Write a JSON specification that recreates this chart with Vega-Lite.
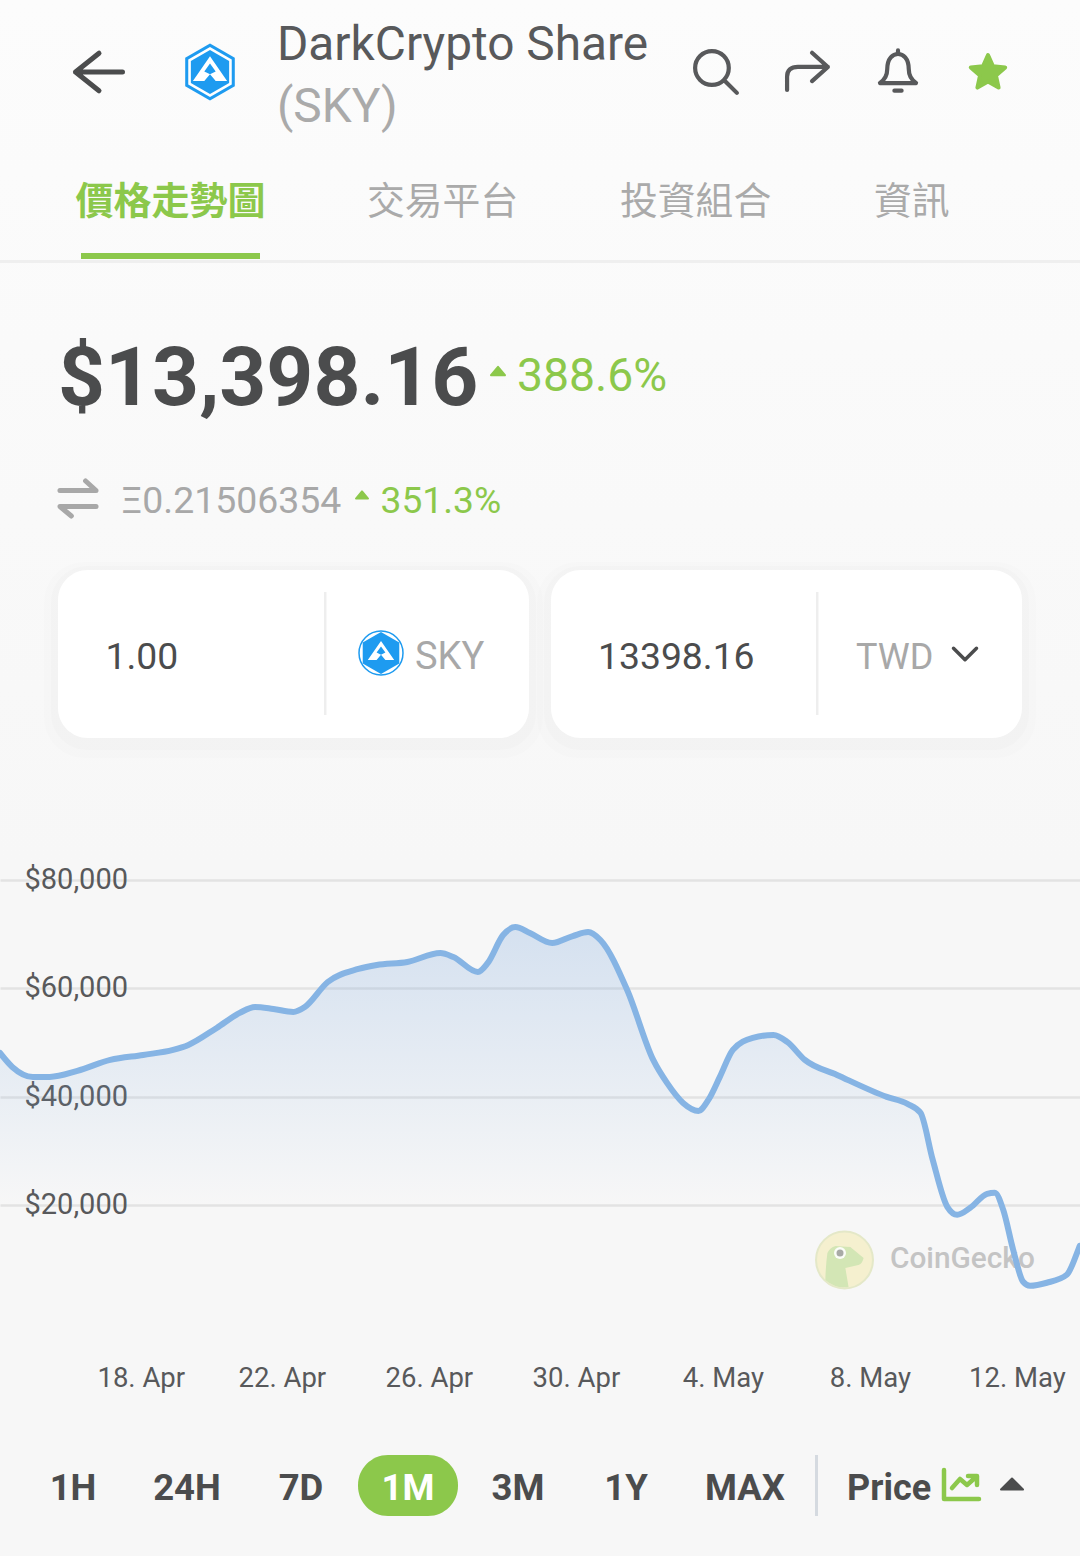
{"$schema":"https://vega.github.io/schema/vega-lite/v6.json","width":1080,"height":433,"autosize":{"type":"none"},"padding":{"left":0,"top":880,"right":0,"bottom":243},"background":"#f7f7f7","config":{"view":{"stroke":null},"text":{"font":"Roboto"}},
"datasets":{"price":[
{"date":"2021-04-14T08:00:00Z","price":48050},{"date":"2021-04-14T16:00:00Z","price":45470},{"date":"2021-04-15T05:30:00Z","price":43620},{"date":"2021-04-15T16:30:00Z","price":43620},{"date":"2021-04-16T10:30:00Z","price":44730},{"date":"2021-04-17T08:00:00Z","price":46760},{"date":"2021-04-18T05:30:00Z","price":47680},{"date":"2021-04-19T01:00:00Z","price":48610},{"date":"2021-04-19T11:00:00Z","price":49530},{"date":"2021-04-20T05:30:00Z","price":52670},{"date":"2021-04-20T20:30:00Z","price":55440},{"date":"2021-04-21T06:30:00Z","price":56540},{"date":"2021-04-21T18:30:00Z","price":56170},{"date":"2021-04-22T07:30:00Z","price":55620},{"date":"2021-04-22T15:00:00Z","price":56540},{"date":"2021-04-23T06:00:00Z","price":61160},{"date":"2021-04-24T02:00:00Z","price":63560},{"date":"2021-04-24T14:00:00Z","price":64300},{"date":"2021-04-25T10:00:00Z","price":64850},{"date":"2021-04-26T07:30:00Z","price":66510},{"date":"2021-04-26T16:00:00Z","price":65770},{"date":"2021-04-27T08:00:00Z","price":63000},{"date":"2021-04-27T14:30:00Z","price":64670},{"date":"2021-04-28T00:30:00Z","price":69830},{"date":"2021-04-28T08:30:00Z","price":71310},{"date":"2021-04-28T18:00:00Z","price":70200},{"date":"2021-04-29T08:30:00Z","price":68360},{"date":"2021-04-29T22:00:00Z","price":69650},{"date":"2021-04-30T08:00:00Z","price":70390},{"date":"2021-04-30T16:00:00Z","price":68910},{"date":"2021-05-01T09:30:00Z","price":59680},{"date":"2021-05-02T02:30:00Z","price":46760},{"date":"2021-05-02T11:30:00Z","price":42510},{"date":"2021-05-02T22:00:00Z","price":38820},{"date":"2021-05-03T08:00:00Z","price":37340},{"date":"2021-05-03T14:30:00Z","price":39370},{"date":"2021-05-03T22:00:00Z","price":43620},{"date":"2021-05-04T06:30:00Z","price":48610},{"date":"2021-05-04T19:30:00Z","price":50820},{"date":"2021-05-05T09:00:00Z","price":51370},{"date":"2021-05-05T18:00:00Z","price":50080},{"date":"2021-05-06T05:30:00Z","price":46760},{"date":"2021-05-07T02:30:00Z","price":43990},{"date":"2021-05-08T11:00:00Z","price":39930},{"date":"2021-05-09T00:30:00Z","price":38640},{"date":"2021-05-09T09:00:00Z","price":36980},{"date":"2021-05-09T17:00:00Z","price":28300},{"date":"2021-05-10T02:30:00Z","price":19620},{"date":"2021-05-10T09:00:00Z","price":18150},{"date":"2021-05-10T17:30:00Z","price":19440},{"date":"2021-05-11T04:30:00Z","price":22020},{"date":"2021-05-11T09:30:00Z","price":22210},{"date":"2021-05-11T15:00:00Z","price":19070},{"date":"2021-05-11T21:30:00Z","price":11690},{"date":"2021-05-12T04:00:00Z","price":5780},{"date":"2021-05-12T08:30:00Z","price":5040},{"date":"2021-05-12T19:30:00Z","price":5590},{"date":"2021-05-13T08:30:00Z","price":7070},{"date":"2021-05-13T16:00:00Z","price":11690},{"date":"2021-05-13T17:00:00Z","price":12420}],
"one":[{"k":1}]},
"layer":[
{"data":{"name":"price"},"mark":{"type":"area","interpolate":"monotone","line":false,"color":{"gradient":"linear","x1":0,"y1":0,"x2":0,"y2":1,"stops":[{"offset":0,"color":"rgba(120,165,220,0.27)"},{"offset":0.72,"color":"rgba(120,165,220,0.0)"},{"offset":1,"color":"rgba(120,165,220,0.0)"}]}},
"encoding":{"x":{"field":"date","type":"temporal","scale":{"type":"utc","domain":["2021-04-14T08:00:00Z","2021-05-13T17:09:00Z"]},"axis":{"title":null,"domain":false,"ticks":false,"grid":false,"labelExpr":"utcFormat(datum.value, '%-d. %b')","values":[{"year":2021,"month":4,"date":18,"utc":true},{"year":2021,"month":4,"date":22,"utc":true},{"year":2021,"month":4,"date":26,"utc":true},{"year":2021,"month":4,"date":30,"utc":true},{"year":2021,"month":5,"date":4,"utc":true},{"year":2021,"month":5,"date":8,"utc":true},{"year":2021,"month":5,"date":12,"utc":true}],"labelFont":"Roboto","labelFontSize":27.5,"labelColor":"#58595b","labelPadding":65,"labelBaseline":"middle","labelAlign":"center","labelFlush":false,"labelOverlap":false,"labelBound":false,"labelOffset":{"condition":{"test":"datum.index < 0.1","value":6},"value":0}}},
"y":{"field":"price","type":"quantitative","scale":{"domain":[0,80000],"nice":false},"axis":{"title":null,"domain":false,"ticks":false,"grid":true,"gridColor":"#e3e3e3","gridWidth":2.5,"values":[20000,40000,60000,80000],"format":"$,.0f","labelFont":"Roboto","labelFontSize":29,"labelColor":"#58595b","labelAlign":"left","labelPadding":-24,"labelOffset":-0.5,"labelBound":false,"labelFlush":false,"labelOverlap":false}}}},

{"data":{"name":"one"},"mark":{"type":"point","shape":"circle","filled":true,"size":3249,"x":844.5,"y":380,"fill":"#f5f0cf","stroke":"#e4e8c8","strokeWidth":2,"opacity":1}},
{"data":{"name":"one"},"mark":{"type":"point","filled":true,"shape":"M-0.59,-0.24Q-0.5,-0.42 -0.31,-0.48L0.2,-0.45L0.66,-0.07Q0.6,0.15 0.48,0.17L0.03,0.28L0.14,0.93Q-0.3,1 -0.66,0.69Q-0.65,0.2 -0.59,-0.24Z","size":3364,"x":844.5,"y":380,"fill":"#d3e6b5","opacity":1}},
{"data":{"name":"one"},"mark":{"type":"point","shape":"circle","filled":true,"size":144,"x":840,"y":373,"fill":"#ffffff","opacity":0.9}},
{"data":{"name":"one"},"mark":{"type":"point","shape":"circle","filled":true,"size":49,"x":840,"y":373,"fill":"#a8aaa6","opacity":1}},
{"data":{"values":[{"t":"CoinGecko"}]},"mark":{"type":"text","x":890,"y":379,"align":"left","baseline":"middle","fontSize":29.8,"fontWeight":500,"color":"#c4c4c4"},"encoding":{"text":{"field":"t"}}},

{"data":{"name":"price"},"mark":{"type":"line","interpolate":"monotone","stroke":"#86b4e4","strokeWidth":6,"strokeCap":"round"},
"encoding":{"x":{"field":"date","type":"temporal","scale":{"type":"utc","domain":["2021-04-14T08:00:00Z","2021-05-13T17:09:00Z"]},"axis":{"title":null,"domain":false,"ticks":false,"grid":false,"labelExpr":"utcFormat(datum.value, '%-d. %b')","values":[{"year":2021,"month":4,"date":18,"utc":true},{"year":2021,"month":4,"date":22,"utc":true},{"year":2021,"month":4,"date":26,"utc":true},{"year":2021,"month":4,"date":30,"utc":true},{"year":2021,"month":5,"date":4,"utc":true},{"year":2021,"month":5,"date":8,"utc":true},{"year":2021,"month":5,"date":12,"utc":true}],"labelFont":"Roboto","labelFontSize":27.5,"labelColor":"#58595b","labelPadding":65,"labelBaseline":"middle","labelAlign":"center","labelFlush":false,"labelOverlap":false,"labelBound":false,"labelOffset":{"condition":{"test":"datum.index < 0.1","value":6},"value":0}}},"y":{"field":"price","type":"quantitative","scale":{"domain":[0,80000],"nice":false}}}},

{"data":{"name":"one"},"mark":{"type":"rect","color":{"gradient":"linear","x1":0,"y1":0,"x2":0,"y2":1,"stops":[{"offset":0,"color":"#fcfcfc"},{"offset":1,"color":"#f7f7f7"}]}},"encoding":{"x":{"value":0},"x2":{"value":1080},"y":{"value":-880},"y2":{"value":-20}}},

{"data":{"values":[{"t":"DarkCrypto Share"}]},"mark":{"type":"text","x":277,"y":-834,"align":"left","baseline":"middle","fontSize":47.8,"color":"#58595b"},"encoding":{"text":{"field":"t"}}},
{"data":{"values":[{"t":"(SKY)"}]},"mark":{"type":"text","x":277,"y":-772,"align":"left","baseline":"middle","fontSize":47.8,"color":"#aaaaaa"},"encoding":{"text":{"field":"t"}}},
{"data":{"name":"one"},"mark":{"type":"point","filled":false,"shape":"M0,-0.8L-1,0L0,0.8M-1,0L1,0","size":2209,"x":99,"y":-808,"stroke":"#4b4c4d","strokeWidth":5,"strokeCap":"round","strokeJoin":"round","opacity":1}},
{"data":{"name":"one"},"mark":{"type":"point","filled":true,"shape":"M0,-1L0.87,-0.5L0.87,0.5L0,1L-0.87,0.5L-0.87,-0.5Z","size":3249,"x":210,"y":-808,"fill":"#1e9bf0","opacity":1}},
{"data":{"name":"one"},"mark":{"type":"point","filled":true,"shape":"M0,-1L0.87,-0.5L0.87,0.5L0,1L-0.87,0.5L-0.87,-0.5Z","size":2500,"x":210,"y":-808,"fill":"#ffffff","opacity":1}},
{"data":{"name":"one"},"mark":{"type":"point","filled":true,"shape":"M0,-1L0.87,-0.5L0.87,0.5L0,1L-0.87,0.5L-0.87,-0.5Z","size":1936,"x":210,"y":-808,"fill":"#1e9bf0","opacity":1}},
{"data":{"name":"one"},"mark":{"type":"point","filled":true,"shape":"M0,-0.55L0.6,0.32L0.2,0.32L0,0.08L-0.2,0.32L-0.6,0.32Z","size":3249,"x":210,"y":-808,"fill":"#ffffff","opacity":1}},
{"data":{"name":"one"},"mark":{"type":"point","filled":true,"shape":"M0,-0.3L0.2,-0.02L0,0.08L-0.2,-0.02Z","size":3249,"x":210,"y":-808,"fill":"#1e9bf0","opacity":1}},
{"data":{"name":"one"},"mark":{"type":"point","filled":false,"shape":"M-0.87,-0.167A0.7,0.7 0 1,1 0.533,-0.167A0.7,0.7 0 1,1 -0.87,-0.167ZM0.33,0.33L0.87,0.87","size":2304,"x":716,"y":-808,"stroke":"#58595b","strokeWidth":4.2,"strokeCap":"round","opacity":1}},
{"data":{"name":"one"},"mark":{"type":"point","filled":false,"shape":"M-0.83,0.75L-0.83,0.2Q-0.83,-0.21 -0.375,-0.21L0.87,-0.21M0.21,-0.8L0.87,-0.21L0.21,0.38","size":2304,"x":807,"y":-808,"stroke":"#58595b","strokeWidth":4.2,"strokeCap":"round","strokeJoin":"round","opacity":1}},
{"data":{"name":"one"},"mark":{"type":"point","filled":false,"shape":"M-0.75,0.46L0.75,0.46M-0.75,0.46Q-0.45,0.25 -0.45,-0.1C-0.45,-0.6 -0.2,-0.75 0,-0.75C0.2,-0.75 0.45,-0.6 0.45,-0.1Q0.45,0.25 0.75,0.46M0,-0.9L0,-0.75M-0.15,0.78L0.15,0.78","size":2304,"x":898,"y":-808,"stroke":"#58595b","strokeWidth":4.2,"strokeCap":"round","strokeJoin":"round","opacity":1}},
{"data":{"name":"one"},"mark":{"type":"point","filled":true,"shape":"M0,-0.9L0.25,-0.34L0.86,-0.28L0.4,0.13L0.53,0.73L0,0.42L-0.53,0.73L-0.4,0.13L-0.86,-0.28L-0.25,-0.34Z","size":1600,"x":988,"y":-807,"fill":"#8cc84b","stroke":"#8cc84b","strokeWidth":4,"strokeJoin":"round","opacity":1}},

{"data":{"values":[{"t":"價格走勢圖"}]},"mark":{"type":"text","x":75.5,"y":-677,"align":"left","baseline":"middle","font":"Noto Sans CJK TC","fontSize":38,"fontWeight":"bold","color":"#8cc84b"},"encoding":{"text":{"field":"t"}}},
{"data":{"values":[{"t":"交易平台"}]},"mark":{"type":"text","x":367,"y":-677,"align":"left","baseline":"middle","font":"Noto Sans CJK TC","fontSize":37.8,"color":"#aaaaaa"},"encoding":{"text":{"field":"t"}}},
{"data":{"values":[{"t":"投資組合"}]},"mark":{"type":"text","x":620,"y":-677,"align":"left","baseline":"middle","font":"Noto Sans CJK TC","fontSize":37.8,"color":"#aaaaaa"},"encoding":{"text":{"field":"t"}}},
{"data":{"values":[{"t":"資訊"}]},"mark":{"type":"text","x":874,"y":-677,"align":"left","baseline":"middle","font":"Noto Sans CJK TC","fontSize":37.8,"color":"#aaaaaa"},"encoding":{"text":{"field":"t"}}},
{"data":{"name":"one"},"mark":{"type":"rect","color":"#efefef"},"encoding":{"x":{"value":0},"x2":{"value":1080},"y":{"value":-620},"y2":{"value":-617}}},
{"data":{"name":"one"},"mark":{"type":"rect","color":"#8cc84b"},"encoding":{"x":{"value":81},"x2":{"value":260},"y":{"value":-627},"y2":{"value":-621}}},

{"data":{"values":[{"t":"$13,398.16"}]},"mark":{"type":"text","x":58,"y":-500,"align":"left","baseline":"middle","fontSize":82,"fontWeight":"bold","color":"#4b4c4d"},"encoding":{"text":{"field":"t"}}},
{"data":{"name":"one"},"mark":{"type":"point","filled":true,"shape":"M-1,0.6L0,-0.6L1,0.6Z","size":196,"x":498,"y":-509,"fill":"#8cc84b","stroke":"#8cc84b","strokeWidth":2,"strokeJoin":"round","opacity":1}},
{"data":{"values":[{"t":"388.6%"}]},"mark":{"type":"text","x":517,"y":-503,"align":"left","baseline":"middle","fontSize":46.3,"color":"#8cc84b"},"encoding":{"text":{"field":"t"}}},
{"data":{"name":"one"},"mark":{"type":"point","filled":false,"shape":"M-0.95,-0.42L0.95,-0.42L0.4,-0.92M0.95,0.42L-0.95,0.42L-0.35,0.92","size":1444,"x":78,"y":-381.5,"stroke":"#a8a8a8","strokeWidth":5,"strokeCap":"round","strokeJoin":"round","opacity":1}},
{"data":{"values":[{"t":"Ξ0.21506354"}]},"mark":{"type":"text","x":121,"y":-378,"align":"left","baseline":"middle","fontSize":37.4,"color":"#a8a8a8"},"encoding":{"text":{"field":"t"}}},
{"data":{"name":"one"},"mark":{"type":"point","filled":true,"shape":"M-1,0.6L0,-0.6L1,0.6Z","size":144,"x":362,"y":-385,"fill":"#8cc84b","stroke":"#8cc84b","strokeWidth":2,"strokeJoin":"round","opacity":1}},
{"data":{"values":[{"t":"351.3%"}]},"mark":{"type":"text","x":380.5,"y":-378,"align":"left","baseline":"middle","fontSize":37.2,"color":"#8cc84b"},"encoding":{"text":{"field":"t"}}},

{"data":{"name":"one"},"mark":{"type":"rect","color":"#000000","opacity":0.008,"cornerRadius":40},"encoding":{"x":{"value":44},"x2":{"value":543},"y":{"value":-318},"y2":{"value":-122}}},
{"data":{"name":"one"},"mark":{"type":"rect","color":"#000000","opacity":0.012,"cornerRadius":36},"encoding":{"x":{"value":51},"x2":{"value":536},"y":{"value":-314},"y2":{"value":-130}}},
{"data":{"name":"one"},"mark":{"type":"rect","color":"#000000","opacity":0.008,"cornerRadius":40},"encoding":{"x":{"value":537},"x2":{"value":1036},"y":{"value":-318},"y2":{"value":-122}}},
{"data":{"name":"one"},"mark":{"type":"rect","color":"#000000","opacity":0.012,"cornerRadius":36},"encoding":{"x":{"value":544},"x2":{"value":1029},"y":{"value":-314},"y2":{"value":-130}}},
{"data":{"name":"one"},"mark":{"type":"rect","color":"#ffffff","cornerRadius":30},"encoding":{"x":{"value":58},"x2":{"value":529},"y":{"value":-310},"y2":{"value":-142}}},
{"data":{"name":"one"},"mark":{"type":"rect","color":"#ffffff","cornerRadius":30},"encoding":{"x":{"value":551},"x2":{"value":1022},"y":{"value":-310},"y2":{"value":-142}}},
{"data":{"name":"one"},"mark":{"type":"rect","color":"#eeeeee"},"encoding":{"x":{"value":324},"x2":{"value":326.5},"y":{"value":-288},"y2":{"value":-165}}},
{"data":{"name":"one"},"mark":{"type":"rect","color":"#eeeeee"},"encoding":{"x":{"value":816},"x2":{"value":818.5},"y":{"value":-288},"y2":{"value":-165}}},
{"data":{"values":[{"t":"1.00"}]},"mark":{"type":"text","x":105.5,"y":-222,"align":"left","baseline":"middle","fontSize":37.3,"color":"#4b4c4d"},"encoding":{"text":{"field":"t"}}},
{"data":{"name":"one"},"mark":{"type":"point","shape":"circle","filled":false,"size":1936,"x":381,"y":-227,"stroke":"#1e9bf0","strokeWidth":1.5,"opacity":1}},
{"data":{"name":"one"},"mark":{"type":"point","filled":true,"shape":"M0,-1L0.87,-0.5L0.87,0.5L0,1L-0.87,0.5L-0.87,-0.5Z","size":1764,"x":381,"y":-227,"fill":"#1e9bf0","opacity":1}},
{"data":{"name":"one"},"mark":{"type":"point","filled":true,"shape":"M0,-0.55L0.6,0.32L0.2,0.32L0,0.08L-0.2,0.32L-0.6,0.32Z","size":1936,"x":381,"y":-227,"fill":"#ffffff","opacity":1}},
{"data":{"name":"one"},"mark":{"type":"point","filled":true,"shape":"M0,-0.3L0.2,-0.02L0,0.08L-0.2,-0.02Z","size":1936,"x":381,"y":-227,"fill":"#1e9bf0","opacity":1}},
{"data":{"values":[{"t":"SKY"}]},"mark":{"type":"text","x":415,"y":-222,"align":"left","baseline":"middle","fontSize":38,"color":"#a8a8a8"},"encoding":{"text":{"field":"t"}}},
{"data":{"values":[{"t":"13398.16"}]},"mark":{"type":"text","x":598,"y":-222,"align":"left","baseline":"middle","fontSize":37.3,"color":"#4b4c4d"},"encoding":{"text":{"field":"t"}}},
{"data":{"values":[{"t":"TWD"}]},"mark":{"type":"text","x":856,"y":-222,"align":"left","baseline":"middle","fontSize":36,"color":"#a8a8a8"},"encoding":{"text":{"field":"t"}}},
{"data":{"name":"one"},"mark":{"type":"point","filled":false,"shape":"M-1,-0.5L0,0.5L1,-0.5","size":529,"x":965,"y":-226,"stroke":"#4b4c4d","strokeWidth":3.5,"strokeCap":"round","strokeJoin":"round","opacity":1}},

{"data":{"name":"one"},"mark":{"type":"rect","color":"#8cc84b","cornerRadius":30},"encoding":{"x":{"value":358},"x2":{"value":458},"y":{"value":575},"y2":{"value":636}}},
{"data":{"values":[{"t":"1H"}]},"mark":{"type":"text","x":73,"y":609,"align":"center","baseline":"middle","fontSize":36.5,"fontWeight":"bold","color":"#4b4c4d"},"encoding":{"text":{"field":"t"}}},
{"data":{"values":[{"t":"24H"}]},"mark":{"type":"text","x":187,"y":609,"align":"center","baseline":"middle","fontSize":36.5,"fontWeight":"bold","color":"#4b4c4d"},"encoding":{"text":{"field":"t"}}},
{"data":{"values":[{"t":"7D"}]},"mark":{"type":"text","x":301,"y":609,"align":"center","baseline":"middle","fontSize":36.5,"fontWeight":"bold","color":"#4b4c4d"},"encoding":{"text":{"field":"t"}}},
{"data":{"values":[{"t":"1M"}]},"mark":{"type":"text","x":408,"y":609,"align":"center","baseline":"middle","fontSize":36.5,"fontWeight":"bold","color":"#ffffff"},"encoding":{"text":{"field":"t"}}},
{"data":{"values":[{"t":"3M"}]},"mark":{"type":"text","x":518,"y":609,"align":"center","baseline":"middle","fontSize":36.5,"fontWeight":"bold","color":"#4b4c4d"},"encoding":{"text":{"field":"t"}}},
{"data":{"values":[{"t":"1Y"}]},"mark":{"type":"text","x":626,"y":609,"align":"center","baseline":"middle","fontSize":36.5,"fontWeight":"bold","color":"#4b4c4d"},"encoding":{"text":{"field":"t"}}},
{"data":{"values":[{"t":"MAX"}]},"mark":{"type":"text","x":745,"y":609,"align":"center","baseline":"middle","fontSize":36.5,"fontWeight":"bold","color":"#4b4c4d"},"encoding":{"text":{"field":"t"}}},
{"data":{"name":"one"},"mark":{"type":"rect","color":"#d5dae0"},"encoding":{"x":{"value":815},"x2":{"value":818},"y":{"value":575},"y2":{"value":636}}},
{"data":{"values":[{"t":"Price"}]},"mark":{"type":"text","x":847,"y":609,"align":"left","baseline":"middle","fontSize":36,"fontWeight":"bold","color":"#4b4c4d"},"encoding":{"text":{"field":"t"}}},
{"data":{"name":"one"},"mark":{"type":"point","filled":false,"shape":"M-0.9,-0.75L-0.9,0.7L0.85,0.7M-0.5,0.15L-0.1,-0.3L0.25,0L0.7,-0.4M0.3,-0.45L0.75,-0.45L0.75,0","size":1600,"x":962,"y":605,"stroke":"#8cc84b","strokeWidth":4.5,"strokeCap":"round","strokeJoin":"round","opacity":1}},
{"data":{"name":"one"},"mark":{"type":"point","filled":true,"shape":"M-1,0.5L0,-0.5L1,0.5Z","size":484,"x":1012,"y":604,"fill":"#4b4c4d","stroke":"#4b4c4d","strokeWidth":2,"strokeJoin":"round","opacity":1}}
]}
